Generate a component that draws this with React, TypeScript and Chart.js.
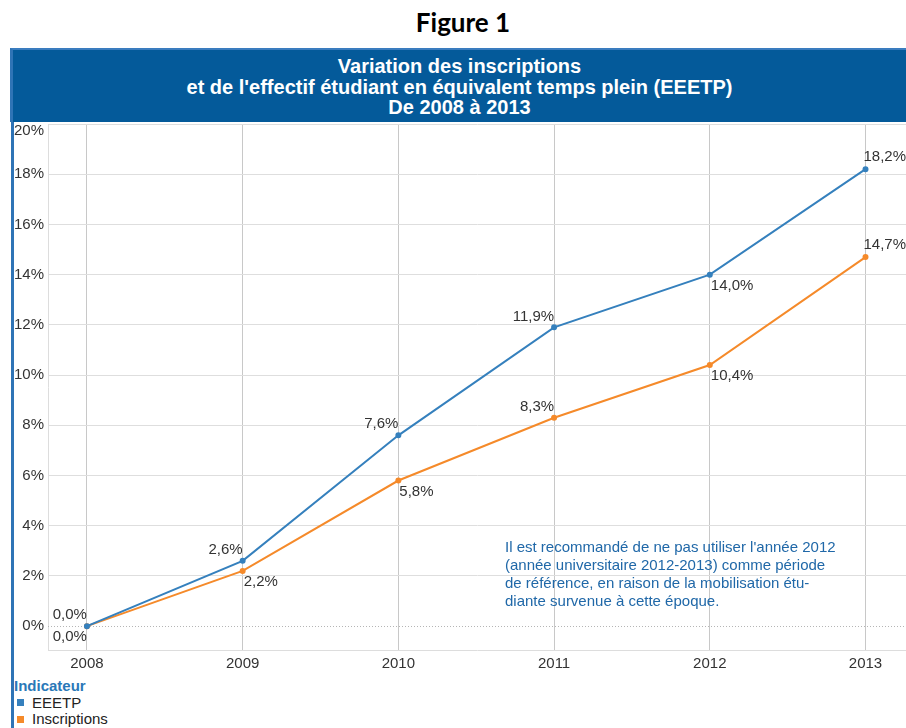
import React, { useEffect, useRef } from "react";
import { Chart, registerables } from "chart.js";

Chart.register(...registerables);

const years = [2008, 2009, 2010, 2011, 2012, 2013];
const eeetp = [0.0, 2.6, 7.6, 11.9, 14.0, 18.2];
const inscriptions = [0.0, 2.2, 5.8, 8.3, 10.4, 14.7];
const yTicks = [0, 2, 4, 6, 8, 10, 12, 14, 16, 18, 20];
const eeetpLabelPos = ["tl", "tl", "tl", "tl", "br", "tr"];
const inscriptionsLabelPos = ["bl", "br", "br", "tl", "br", "tr"];

const FONT = '"Liberation Sans", Arial, sans-serif';
const BLUE = "#3580bd";
const ORANGE = "#f58a2a";

const fmt = (v: number) => v.toFixed(1).replace(".", ",") + "%";

const customPlugin = {
  id: "customDraw",
  beforeDatasetsDraw(chart: any) {
    const { ctx, chartArea } = chart;
    const ys = chart.scales.y;
    const y0 = Math.round(ys.getPixelForValue(0)) + 0.5;
    ctx.save();
    ctx.strokeStyle = "#b5b5b5";
    ctx.lineWidth = 1;
    ctx.setLineDash([1, 2]);
    ctx.beginPath();
    ctx.moveTo(chartArea.left, y0);
    ctx.lineTo(chartArea.right, y0);
    ctx.stroke();
    ctx.restore();
  },
  afterDatasetsDraw(chart: any) {
    const { ctx } = chart;
    ctx.save();
    ctx.font = `15px ${FONT}`;
    ctx.fillStyle = "#333333";
    ctx.textBaseline = "middle";
    chart.data.datasets.forEach((ds: any, di: number) => {
      const meta = chart.getDatasetMeta(di);
      meta.data.forEach((pt: any, i: number) => {
        const pos = ds.labelPos[i];
        const text = fmt(ds.data[i].y);
        let x = pt.x;
        let y = pt.y;
        if (pos === "tl") {
          ctx.textAlign = "right";
          y -= 11;
        } else if (pos === "tr") {
          ctx.textAlign = "left";
          x -= 2;
          y -= 12;
        } else if (pos === "br") {
          ctx.textAlign = "left";
          x += 1;
          y += 11;
        } else {
          ctx.textAlign = "right";
          y += 11;
        }
        ctx.fillText(text, x, y);
      });
    });
    ctx.restore();
  },
  afterDraw(chart: any) {
    const { ctx, chartArea } = chart;
    const ys = chart.scales.y;
    ctx.save();
    ctx.font = `15px ${FONT}`;
    ctx.fillStyle = "#333333";
    ctx.textAlign = "right";
    ctx.textBaseline = "middle";
    yTicks.forEach((v) => {
      let y = ys.getPixelForValue(v);
      if (y - 7 < chartArea.top) y = chartArea.top + 7;
      ctx.fillText(v + "%", chartArea.left - 4, y);
    });
    ctx.restore();
  },
};

function LineChart() {
  const ref = useRef<HTMLCanvasElement>(null);
  useEffect(() => {
    if (!ref.current) return;
    const chart = new Chart(ref.current, {
      type: "line",
      data: {
        datasets: [
          {
            label: "EEETP",
            data: years.map((yr, i) => ({ x: yr, y: eeetp[i] })),
            borderColor: BLUE,
            backgroundColor: BLUE,
            pointBackgroundColor: BLUE,
            pointBorderColor: BLUE,
            borderWidth: 2,
            pointRadius: 2,
            tension: 0,
            labelPos: eeetpLabelPos,
          } as any,
          {
            label: "Inscriptions",
            data: years.map((yr, i) => ({ x: yr, y: inscriptions[i] })),
            borderColor: ORANGE,
            backgroundColor: ORANGE,
            pointBackgroundColor: ORANGE,
            pointBorderColor: ORANGE,
            borderWidth: 2,
            pointRadius: 2,
            tension: 0,
            labelPos: inscriptionsLabelPos,
          } as any,
        ],
      },
      options: {
        animation: false,
        responsive: false,
        maintainAspectRatio: false,
        layout: { autoPadding: false, padding: { top: 8, left: 0, right: 0, bottom: 0 } },
        plugins: {
          legend: { display: false },
          tooltip: { enabled: false },
          title: { display: false },
        },
        scales: {
          x: {
            type: "linear",
            min: 2007.75,
            max: 2013.26,
            afterBuildTicks: (scale: any) => {
              scale.ticks = years.map((v) => ({ value: v }));
            },
            afterFit: (scale: any) => {
              scale.height = 26;
              scale.paddingLeft = 0;
              scale.paddingRight = 0;
            },
            ticks: {
              callback: (v: any) => String(v),
              font: { family: FONT, size: 15 },
              color: "#333333",
              padding: 5,
              maxRotation: 0,
              autoSkip: false,
            },
            grid: { color: "#c8c8c8", drawTicks: false, lineWidth: 1 },
            border: { display: true, color: "#dddddd" },
          },
          y: {
            type: "linear",
            min: -0.95,
            max: 20,
            afterBuildTicks: (scale: any) => {
              scale.ticks = yTicks.map((v) => ({ value: v }));
            },
            afterFit: (scale: any) => {
              scale.width = 34;
              scale.paddingTop = 0;
              scale.paddingBottom = 0;
            },
            ticks: { display: false },
            grid: {
              color: (c: any) => (c.tick && c.tick.value === 0 ? "rgba(0,0,0,0)" : "#dedede"),
              drawTicks: false,
              lineWidth: 1,
            },
            border: { display: true, color: "#dddddd" },
          },
        },
      } as any,
      plugins: [customPlugin],
    });
    return () => chart.destroy();
  }, []);
  return (
    <canvas
      ref={ref}
      width={892}
      height={560}
      style={{ position: "absolute", left: 14, top: 116, width: 892, height: 560 }}
    />
  );
}

export default function App() {
  return (
    <div
      style={{
        position: "absolute",
        left: 0,
        top: 0,
        width: 906,
        height: 728,
        overflow: "hidden",
        background: "#ffffff",
        fontFamily: FONT,
      }}
    >
      <div
        style={{
          position: "absolute",
          left: 0,
          top: 6,
          width: 926,
          textAlign: "center",
          fontFamily: "Lato, 'Open Sans', sans-serif",
          fontWeight: 700,
          fontSize: 26,
          color: "#000",
        }}
      >
        Figure 1
      </div>
      <div
        style={{
          position: "absolute",
          left: 11,
          top: 48,
          width: 3,
          height: 680,
          background: "#2f74b6",
        }}
      />
      <div
        style={{
          position: "absolute",
          left: 10,
          top: 48,
          width: 900,
          height: 74,
          boxSizing: "border-box",
          background: "#045a9a",
          borderTop: "2px solid #3a7cbf",
          borderLeft: "3px solid #2f74b6",
          zIndex: 2,
        }}
      >
        <div
          style={{
            position: "absolute",
            left: 0,
            top: 6,
            width: 893,
            textAlign: "center",
            color: "#ffffff",
            fontWeight: 700,
            fontSize: 20,
            lineHeight: "20.5px",
          }}
        >
          Variation des inscriptions
          <br />
          et de l'effectif étudiant en équivalent temps plein (EEETP)
          <br />
          De 2008 à 2013
        </div>
      </div>
      <LineChart />
      <div
        style={{
          position: "absolute",
          left: 505,
          top: 538,
          color: "#2068a8",
          fontSize: 15,
          lineHeight: "18px",
          whiteSpace: "nowrap",
        }}
      >
        Il est recommandé de ne pas utiliser l'année 2012
        <br />
        (année universitaire 2012-2013) comme période
        <br />
        de référence, en raison de la mobilisation étu-
        <br />
        diante survenue à cette époque.
      </div>
      <div style={{ position: "absolute", left: 14, top: 678, fontSize: 15, lineHeight: "16.5px" }}>
        <div style={{ color: "#2a78b8", fontWeight: 700 }}>Indicateur</div>
        <div style={{ display: "flex", alignItems: "center", color: "#222" }}>
          <span style={{ display: "inline-block", width: 7, height: 7, background: BLUE, marginLeft: 3, marginRight: 8 }} />
          EEETP
        </div>
        <div style={{ display: "flex", alignItems: "center", color: "#222" }}>
          <span style={{ display: "inline-block", width: 7, height: 7, background: ORANGE, marginLeft: 3, marginRight: 8 }} />
          Inscriptions
        </div>
      </div>
    </div>
  );
}
